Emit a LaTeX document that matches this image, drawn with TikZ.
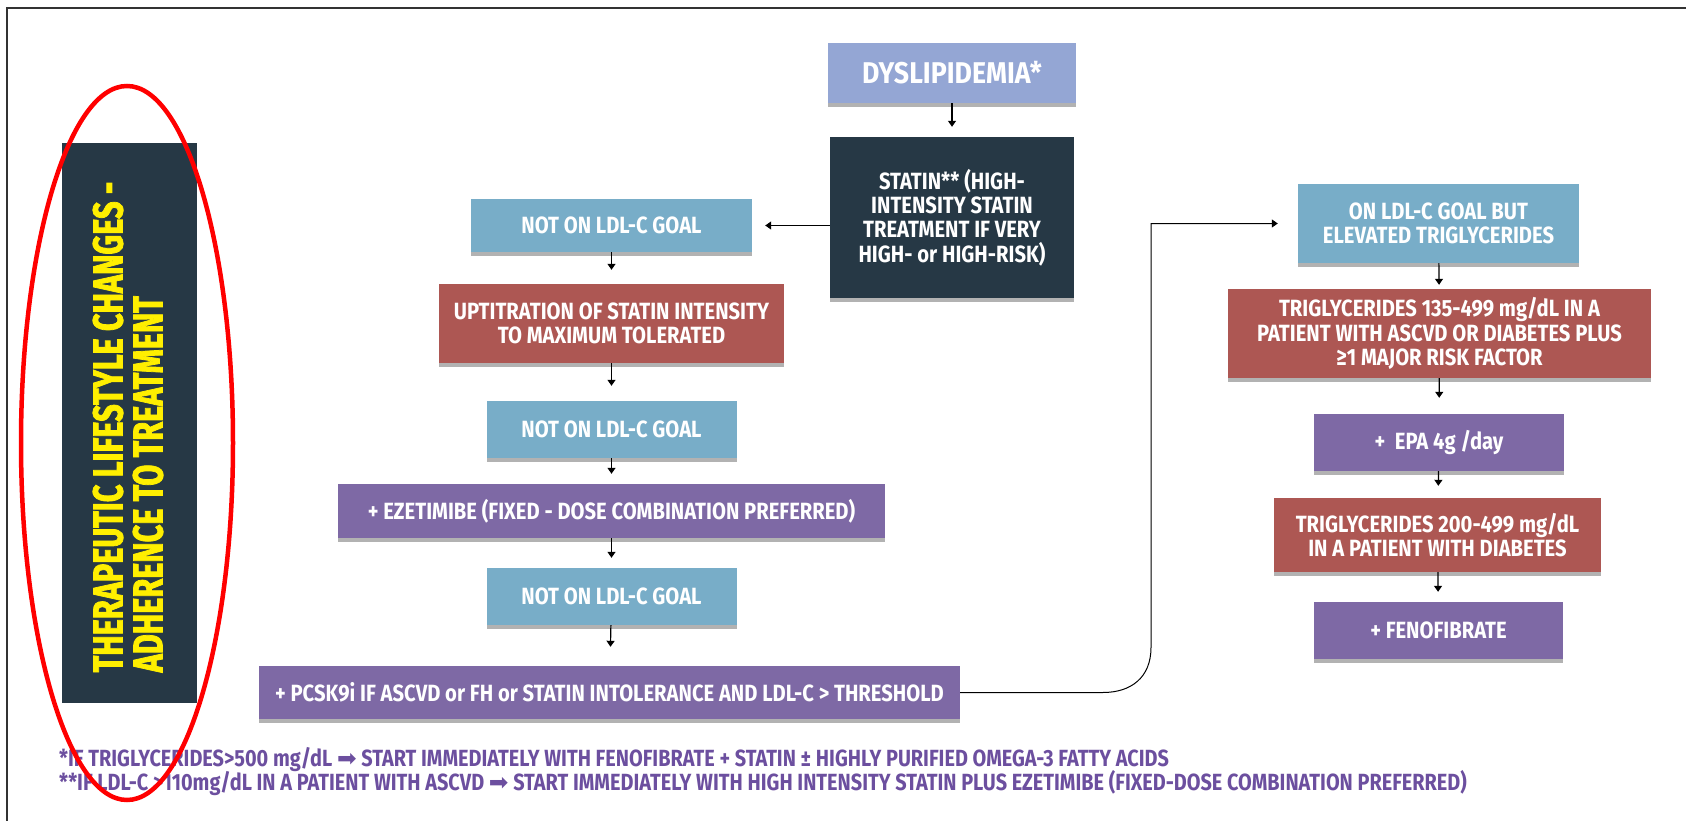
\documentclass[tikz,border=0pt]{standalone}
\usepackage{fontspec}
\setmainfont{Fira Sans}
\newfontfamily\cond{Fira Sans}[FakeStretch=0.86]
\newfontfamily\condd{Fira Sans}[FakeStretch=0.89]
\newfontfamily\condf{Fira Sans}[FakeStretch=0.85]
\newfontfamily\condt{Fira Sans}[FakeStretch=0.73,FakeBold=1.8]
\newfontfamily\dv{DejaVu Sans}
\usetikzlibrary{arrows.meta,shadows,calc}
\definecolor{cdys}{HTML}{94A6D4}
\definecolor{cdark}{HTML}{263845}
\definecolor{cblue}{HTML}{78ADC8}
\definecolor{cred}{HTML}{AD5753}
\definecolor{cpurp}{HTML}{7E69A5}
\definecolor{cfoot}{HTML}{6C4F9F}
\definecolor{cyel}{HTML}{FFEF00}
\begin{document}
\begin{tikzpicture}[x=1pt,y=-1pt,
  box/.style={rectangle, inner sep=0pt, text=white, align=center,
    font=\cond\bfseries\fontsize{23.5}{24.2}\selectfont,
    drop shadow={shadow xshift=0pt, shadow yshift=-4pt, opacity=0.3, fill=black}},
  arr/.style={-{Triangle[width=8pt,length=6pt]}, line width=1.2pt, black},
  foot/.style={anchor=base west, inner sep=0pt, text=cfoot,
    font=\condf\bfseries\fontsize{23.4}{24}\selectfont}]
\useasboundingbox (0,0) rectangle (1686,821);
\fill[white] (0,0) rectangle (1686,821);
% frame
\draw[black!80, line width=2.5pt] (7,821) -- (7,8) -- (1686,8);

% left bar
\node[rectangle, fill=cdark, inner sep=0pt, minimum width=135pt, minimum height=560pt] (tlc) at (129.5,423) {};
\node[rotate=90, align=left, inner sep=0pt, text=cyel,
  font=\condt\bfseries\fontsize{42}{40}\selectfont] (tlct) at (128,427)
  {THERAPEUTIC LIFESTYLE CHANGES -\\ADHERENCE TO TREATMENT};

% centre / left column
\node[box, fill=cdys, minimum width=248pt, minimum height=60pt,
  font=\condd\bfseries\fontsize{30}{32}\selectfont] (dys) at (952,73) {DYSLIPIDEMIA*};
\node[box, fill=cdark, minimum width=244pt, minimum height=161pt] (statin) at (952,217.5)
  {STATIN** (HIGH-\\INTENSITY STATIN\\TREATMENT IF VERY\\HIGH- or HIGH-RISK)};
\node[box, fill=cblue, minimum width=281pt, minimum height=53pt] (goal1) at (611.5,225.5) {NOT ON LDL-C GOAL};
\node[box, fill=cred, minimum width=345pt, minimum height=79pt] (upt) at (611.5,323.5)
  {UPTITRATION OF STATIN INTENSITY\\TO MAXIMUM TOLERATED};
\node[box, fill=cblue, minimum width=250pt, minimum height=57pt] (goal2) at (611.5,429.5) {NOT ON LDL-C GOAL};
\node[box, fill=cpurp, minimum width=547pt, minimum height=54pt] (eze) at (611.5,511)
  {+ EZETIMIBE (FIXED - DOSE COMBINATION PREFERRED)};
\node[box, fill=cblue, minimum width=250pt, minimum height=57pt] (goal3) at (611.5,596.5) {NOT ON LDL-C GOAL};
\node[box, fill=cpurp, minimum width=701pt, minimum height=53pt] (pcsk) at (609.5,692.5)
  {+ PCSK9i IF ASCVD or FH or STATIN INTOLERANCE AND LDL-C > THRESHOLD};

% right column
\node[box, fill=cblue, minimum width=281pt, minimum height=79pt] (ontg) at (1438.5,223.5)
  {ON LDL-C GOAL BUT\\ELEVATED TRIGLYCERIDES};
\node[box, fill=cred, minimum width=423pt, minimum height=89pt] (tg1) at (1439.5,333.5)
  {TRIGLYCERIDES 135-499 mg/dL IN A\\PATIENT WITH ASCVD OR DIABETES PLUS\\≥1 MAJOR RISK FACTOR};
\node[box, fill=cpurp, minimum width=250pt, minimum height=57pt] (epa) at (1439,442.5) {+\ \ EPA 4g /day};
\node[box, fill=cred, minimum width=327pt, minimum height=74pt] (tg2) at (1437.5,535)
  {TRIGLYCERIDES 200-499 mg/dL\\IN A PATIENT WITH DIABETES};
\node[box, fill=cpurp, minimum width=249pt, minimum height=57pt] (feno) at (1438.5,630.5) {+ FENOFIBRATE};

% arrows
\draw[arr, shorten >=10pt] (dys) -- (statin);
\draw[arr, shorten >=13pt] (statin.west |- goal1.east) -- (goal1.east);
\draw[arr, shorten >=14pt] (goal1) -- (upt);
\draw[arr, shorten >=15pt] (upt) -- (goal2);
\draw[arr, shorten >=10pt] (goal2) -- (eze);
\draw[arr, shorten >=10pt] (eze) -- (goal3);
\draw[arr, shorten >=19pt] (goal3) -- (pcsk);
\draw[arr, shorten >=4pt] (ontg) -- (tg1);
\draw[arr, shorten >=16pt] (tg1) -- (epa);
\draw[arr, shorten >=12pt] (epa) -- (tg2);
\draw[arr, shorten >=10pt] (tg2) -- (feno);
\coordinate (cb) at (1151,692.5);
\coordinate (ct) at (1151,223.5);
\draw[arr, line width=1pt, shorten >=20pt] (pcsk.east) -- ($(cb)+(-48,0)$)
  .. controls ($(cb)+(-20,0)$) and ($(cb)+(0,-15)$) .. ($(cb)+(0,-45)$)
  -- (ct) -- (ontg.west);

% footnotes
\node[foot] (f1) at (59,766) {*IF TRIGLYCERIDES>500 mg/dL {\dv\mdseries ➡} START IMMEDIATELY WITH FENOFIBRATE + STATIN ± HIGHLY PURIFIED OMEGA-3 FATTY ACIDS};
\node[foot] (f2) at (59,790) {**IF LDL-C >110mg/dL IN A PATIENT WITH ASCVD {\dv\mdseries ➡} START IMMEDIATELY WITH HIGH INTENSITY STATIN PLUS EZETIMIBE (FIXED-DOSE COMBINATION PREFERRED)};

% highlight ellipse
\draw[red, line width=4.5pt] (127,443) ellipse [x radius=106, y radius=357];
\end{tikzpicture}
\end{document}
